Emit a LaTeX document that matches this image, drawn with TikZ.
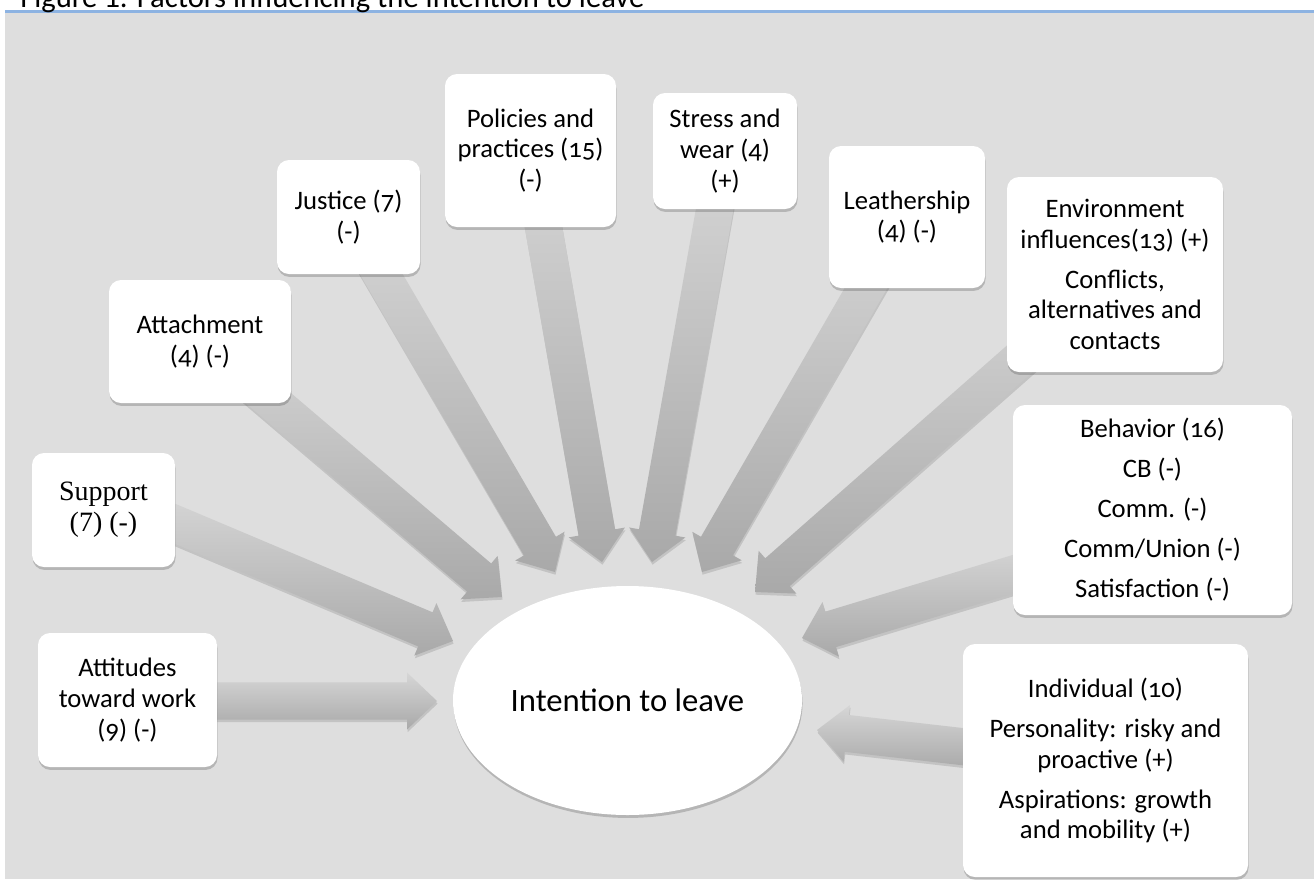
\documentclass[tikz,border=0pt]{standalone}
\usepackage{fontspec}
\setmainfont{Carlito}[Numbers=OldStyle]
\newfontfamily\cambriafont{Liberation Serif}
\usetikzlibrary{calc,shadows,shapes.geometric}
\definecolor{bggray}{HTML}{DEDEDE}
\definecolor{titleblue}{HTML}{8DB3E2}
\definecolor{arrlight}{HTML}{D6D6D6}
\definecolor{arrdark}{HTML}{A9A9A9}
\tikzset{
  softshadow/.style={drop shadow={shadow xshift=0.4pt, shadow yshift=-2.2pt, opacity=0.18, fill=black}},
  fbox/.style={fill=white, rounded corners=9pt, inner sep=0pt, align=center,
    font=\fontsize{20}{23}\selectfont, softshadow},
  arrowsty/.style={top color=arrlight, bottom color=arrdark,
    drop shadow={shadow xshift=0.4pt, shadow yshift=-2pt, opacity=0.12, fill=black}},
}
\newcommand\blockarr[2]{%
  \coordinate (#1-b) at ($(#2)!22.5pt!(#1)$);
  \path[arrowsty]
    ($(#1)!13.9pt!90:(#2)$) -- ($(#1-b)!13.9pt!-90:(#1)$) -- ($(#1-b)!21.4pt!-90:(#1)$)
    -- (#2) -- ($(#1-b)!21.4pt!90:(#1)$) -- ($(#1-b)!13.9pt!90:(#1)$)
    -- ($(#1)!13.9pt!-90:(#2)$) -- cycle;
}
\begin{document}
\begin{tikzpicture}[x=0.75pt,y=-0.75pt]
\useasboundingbox (0,0) rectangle (1314,879);
\fill[bggray] (5,13) rectangle (1314,879);
\draw[titleblue, line width=2pt] (5,11.5) -- (1314,11.5);
\node[anchor=base west, inner sep=0pt, font=\fontsize{23}{27}\selectfont] (title) at (20,7) {Figure 1. Factors influencing the intention to leave};

% arrow coordinates
\coordinate (s1) at (130,701);  \coordinate (t1) at (437,701);
\coordinate (s2) at (140,509);  \coordinate (t2) at (453,641);
\coordinate (s3) at (200,340);  \coordinate (t3) at (502,597);
\coordinate (s4) at (348,217);  \coordinate (t4) at (555,572);
\coordinate (s5) at (530,150);  \coordinate (t5) at (602,562);
\coordinate (s6) at (725,151);  \coordinate (t6) at (652,562);
\coordinate (s7) at (907,217);  \coordinate (t7) at (702,572);
\coordinate (s8) at (1115,275); \coordinate (t8) at (755,592);
\coordinate (s9) at (1060,560); \coordinate (t9) at (802,638);
\coordinate (s10) at (1001,751); \coordinate (t10) at (817,730);

\blockarr{s1}{t1}
\blockarr{s2}{t2}
\blockarr{s3}{t3}
\blockarr{s4}{t4}
\blockarr{s5}{t5}
\blockarr{s6}{t6}
\blockarr{s7}{t7}
\blockarr{s8}{t8}
\blockarr{s9}{t9}
\blockarr{s10}{t10}

\node[fbox, minimum width=107.25pt, minimum height=85.5pt, font=\cambriafont\fontsize{21}{23}\selectfont] (sup) at (103.5,510) {Support\\(7) (-)};
\node[fbox, minimum width=134.25pt, minimum height=100.5pt] (att) at (127.5,700) {Attitudes\\toward work\\(9) (-)};
\node[fbox, minimum width=136.5pt, minimum height=92.25pt] (atc) at (200,341.5) {Attachment\\(4) (-)};
\node[fbox, minimum width=107.25pt, minimum height=85.5pt] (jus) at (348.5,217) {Justice (7)\\(-)};
\node[fbox, minimum width=128.25pt, minimum height=114.75pt] (pol) at (530.5,150.5) {Policies and\\practices (15)\\(-)};
\node[fbox, minimum width=108pt, minimum height=87pt] (str) at (725,151) {Stress and\\wear (4)\\(+)};
\node[fbox, minimum width=117pt, minimum height=106.5pt] (lea) at (907,217) {Leathership\\(4) (-)};
\node[fbox, minimum width=162pt, minimum height=146.25pt] (env) at (1115,274.5) {Environment\\influences(13) (+)\\[7pt]Conflicts,\\alternatives and\\contacts};
\node[fbox, minimum width=209.25pt, minimum height=157.5pt] (beh) at (1152.5,510) {Behavior (16)\\[7pt]CB (-)\\[7pt]Comm. (-)\\[7pt]Comm/Union (-)\\[7pt]Satisfaction (-)};
\node[fbox, minimum width=213.75pt, minimum height=174.75pt] (ind) at (1105.5,760.5) {Individual (10)\\[7pt]Personality: risky and\\proactive (+)\\[7pt]Aspirations: growth\\and mobility (+)};

\node[ellipse, fill=white, inner sep=0pt, minimum width=261.75pt, minimum height=171.75pt,
  font=\fontsize{24.5}{28}\selectfont, softshadow] (itl) at (627.5,700.5) {Intention to leave};
\end{tikzpicture}
\end{document}
